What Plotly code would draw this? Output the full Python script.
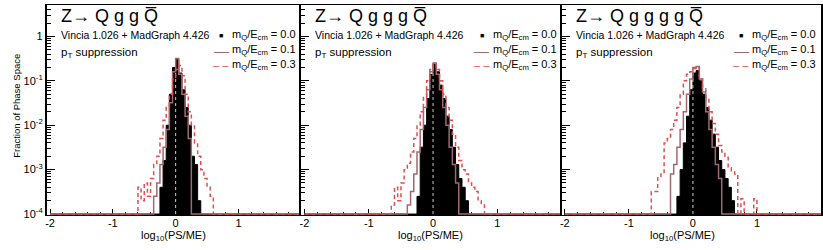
import numpy as np
import plotly.graph_objects as go

W, H = 823, 250
FONT = "Liberation Sans, Arial, Helvetica, sans-serif"

# ---------------- data ----------------
# histograms: 80 bins of width 0.05 on [-2, 2]; each series = first bin lower edge + bin contents
BIN_LO, BIN_HI, NBINS = -2.0, 2.0, 80

panel_titles = ["Z\u2192 Q g g Q\u0305", "Z\u2192 Q g g g Q\u0305", "Z\u2192 Q g g g g Q\u0305"]
generator_label = "Vincia 1.026 + MadGraph 4.426"
method_label = "p<sub>T</sub> suppression"
series_labels = ["m<sub>Q</sub>/E<sub>cm</sub> = 0.0",
                 "m<sub>Q</sub>/E<sub>cm</sub> = 0.1",
                 "m<sub>Q</sub>/E<sub>cm</sub> = 0.3"]
x_title = "log<sub>10</sub>(PS/ME)"
y_title = "Fraction of Phase Space"

# Panel 1: Z -> Q g g Qbar
p1_m00_start = -0.25
p1_m00 = [4.0e-4, 1.6e-3, 1.0e-2, 5.0e-2, 0.20, 0.30, 0.15, 6.3e-2, 2.5e-2, 1.0e-2,
          2.0e-3, 1.3e-3, 2.0e-4]
p1_m01_start = -0.35
p1_m01 = [2.5e-4, 5.0e-4, 1.3e-3, 3.2e-3, 8.0e-3, 3.2e-2, 0.16, 0.32, 0.14, 5.0e-2,
          1.6e-2, 5.0e-3]
p1_m03_start = -0.60
p1_m03 = [4.0e-4, 2.0e-4, 5.0e-4, 2.5e-4, 6.3e-4, 1.3e-3, 2.0e-3, 5.0e-3, 1.3e-2, 2.5e-2,
          5.0e-2, 0.11, 0.18, 0.22, 0.13, 5.0e-2, 2.0e-2, 1.0e-2, 4.0e-3, 2.0e-3,
          1.0e-3, 6.3e-4, 4.0e-4, 2.5e-4]

# Panel 2: Z -> Q g g g Qbar
p2_m00_start = -0.25
p2_m00 = [2.5e-4, 3.2e-3, 1.0e-2, 4.0e-2, 0.14, 0.25, 0.16, 8.0e-2, 4.0e-2, 1.6e-2,
          8.0e-3, 3.2e-3, 1.3e-3, 6.3e-4, 4.0e-4, 2.0e-4]
p2_m01_start = -0.40
p2_m01 = [1.6e-4, 3.2e-4, 8.0e-4, 2.5e-3, 8.0e-3, 2.5e-2, 6.3e-2, 0.16, 0.25, 0.14,
          6.3e-2, 2.5e-2, 1.0e-2, 3.2e-3, 1.3e-3, 5.0e-4]
p2_m03_start = -0.65
p2_m03 = [1.6e-4, 4.0e-4, 2.0e-4, 5.0e-4, 1.0e-3, 1.4e-3, 2.5e-3, 5.0e-3, 1.0e-2, 2.0e-2,
          4.5e-2, 0.10, 0.18, 0.24, 0.18, 0.10, 5.0e-2, 2.5e-2, 1.3e-2, 6.3e-3,
          3.2e-3, 1.6e-3, 1.0e-3, 8.0e-4, 5.0e-4, 4.0e-4, 3.2e-4, 2.0e-4, 1.6e-4]

# Panel 3: Z -> Q g g g g Qbar
p3_m00_start = -0.25
p3_m00 = [2.5e-4, 1.0e-3, 4.0e-3, 1.6e-2, 6.3e-2, 0.15, 0.17, 0.10, 5.0e-2, 2.5e-2,
          1.3e-2, 6.3e-3, 3.2e-3, 1.6e-3, 1.0e-3, 6.3e-4, 4.0e-4, 2.0e-4]
p3_m01_start = -0.35
p3_m01 = [8.0e-4, 1.3e-3, 3.2e-3, 8.0e-3, 2.0e-2, 5.0e-2, 0.11, 0.20, 0.21, 0.11,
          5.6e-2, 2.0e-2, 8.0e-3, 3.2e-3, 1.3e-3, 6.3e-4]
p3_m03_start = -0.65
p3_m03 = [3.2e-4, 3.2e-4, 7.0e-4, 8.0e-4, 4.0e-3, 5.0e-3, 8.0e-3, 1.3e-2, 2.5e-2, 5.0e-2,
          0.10, 0.14, 0.16, 0.19, 0.20, 0.11, 7.0e-2, 4.0e-2, 2.0e-2, 1.1e-2,
          6.3e-3, 3.5e-3, 2.5e-3, 2.0e-3, 1.1e-3, 9.0e-4, 8.0e-4, 0.0, 2.2e-4, 0.0,
          0.0, 0.0, 2.2e-4]

# height reached by the dashed reference line at log10(PS/ME) = 0
ref_line_x = 0.0
ref_line_top = [0.25, 0.20, 0.15]

x_tickvals = [-2, -1, 0, 1]
x_ticktext = ["-2", "-1", "0", "1"]
y_tickvals = [1e-4, 1e-3, 1e-2, 1e-1, 1]
y_ticktext = ["10<sup>-4</sup>", "10<sup>-3</sup>", "10<sup>-2</sup>", "10<sup>-1</sup>", "1"]

panels = [
    [(p1_m00_start, p1_m00), (p1_m01_start, p1_m01), (p1_m03_start, p1_m03)],
    [(p2_m00_start, p2_m00), (p2_m01_start, p2_m01), (p2_m03_start, p2_m03)],
    [(p3_m00_start, p3_m00), (p3_m01_start, p3_m01), (p3_m03_start, p3_m03)],
]

# ---------------- style / layout ----------------
FLOOR = 1e-4            # empty bins drawn on the frame bottom, as ROOT does
BROWN = "rgb(160,105,112)"
RED = "rgb(228,78,78)"
REFGRAY = "rgb(205,205,205)"
panel_px = [(45, 300), (300, 561), (561, 821)]
plot_top, plot_bot = 5, 219.3
title_px = [172, 430, 682]

edges = np.linspace(BIN_LO, BIN_HI, NBINS + 1)
bw = (BIN_HI - BIN_LO) / NBINS


def hist_xy(start, vals):
    full = np.zeros(NBINS)
    i0 = int(round((start - BIN_LO) / bw))
    full[i0:i0 + len(vals)] = vals
    y = np.where(full > 0, full, FLOOR)
    return edges, np.append(y, y[-1])


def px(X):
    return X / W


def py(Y):
    return 1 - Y / H


fig = go.Figure()
minor_y = [k * 10.0 ** e for e in range(-4, 1) for k in range(2, 10) if k * 10.0 ** e < 5.2]

for i, series in enumerate(panels):
    sfx = "" if i == 0 else str(i + 1)
    xa, ya = "x" + sfx, "y" + sfx
    (s0, v0), (s1, v1), (s3, v3) = series
    x, y = hist_xy(s0, v0)
    fig.add_trace(go.Scatter(x=x, y=y, mode="lines", xaxis=xa, yaxis=ya,
                             line=dict(shape="hv", color="black", width=1),
                             fill="tozeroy", fillcolor="black", showlegend=False,
                             name=series_labels[0]))
    fig.add_trace(go.Scatter(x=[ref_line_x, ref_line_x], y=[FLOOR, ref_line_top[i]],
                             mode="lines", xaxis=xa, yaxis=ya,
                             line=dict(color=REFGRAY, width=1, dash="3px,3px"),
                             showlegend=False))
    x, y = hist_xy(s1, v1)
    fig.add_trace(go.Scatter(x=x, y=y, mode="lines", xaxis=xa, yaxis=ya,
                             line=dict(shape="hv", color=BROWN, width=1.5),
                             showlegend=False, name=series_labels[1]))
    x, y = hist_xy(s3, v3)
    fig.add_trace(go.Scatter(x=x, y=y, mode="lines", xaxis=xa, yaxis=ya,
                             line=dict(shape="hv", color=RED, width=1.5, dash="4px,3px"),
                             showlegend=False, name=series_labels[2]))

    l, r = panel_px[i]
    fig.layout["xaxis" + sfx] = dict(
        domain=[px(l), px(r)], range=[-2.05, 2.0], anchor=ya,
        showline=True, linecolor="black", linewidth=1, mirror=True,
        ticks="inside", ticklen=6, tickwidth=1, tickcolor="black",
        tickmode="array", tickvals=x_tickvals, ticktext=x_ticktext,
        tickfont=dict(family=FONT, size=11, color="black"), ticklabelstandoff=-2,
        minor=dict(ticks="inside", ticklen=3, tickwidth=1, tickcolor="black",
                   tickmode="linear", tick0=0, dtick=0.2),
        showgrid=False, zeroline=False, layer="below traces", fixedrange=True)
    fig.layout["yaxis" + sfx] = dict(
        domain=[py(plot_bot), py(plot_top)], type="log", range=[-4.02, 0.71], anchor=xa,
        showline=True, linecolor="black", linewidth=2, mirror=(i == 2),
        ticks="inside", ticklen=8, tickwidth=1, tickcolor="black",
        tickmode="array", tickvals=y_tickvals, ticktext=y_ticktext,
        showticklabels=(i == 0),
        tickfont=dict(family=FONT, size=11, color="black"),
        minor=dict(ticks="inside", ticklen=4, tickwidth=1, tickcolor="black",
                   tickmode="array", tickvals=minor_y),
        showgrid=False, zeroline=False, fixedrange=True)

    ann = []
    ann.append(dict(text=panel_titles[i], x=px(l + 12), y=py(16), xanchor="left", yanchor="middle",
                    font=dict(family=FONT, size=18, color="black")))
    ann.append(dict(text=generator_label, x=px(l + 12), y=py(35.5), xanchor="left", yanchor="middle",
                    font=dict(family=FONT, size=10.5, color="black")))
    ann.append(dict(text=method_label, x=px(l + 12), y=py(54), xanchor="left", yanchor="middle",
                    font=dict(family=FONT, size=11.5, color="black")))
    rows = [36, 51.5, 66.5]
    for k in range(3):
        ann.append(dict(text=series_labels[k], x=px(r - 71), y=py(rows[k]), xanchor="left",
                        yanchor="middle", font=dict(family=FONT, size=11, color="black")))
    ann.append(dict(text="\u25A0", x=px(r - 80), y=py(rows[0]), xanchor="center", yanchor="middle",
                    font=dict(family=FONT, size=7, color="black")))
    ann.append(dict(text="\u2014", x=px(r - 80), y=py(rows[1]), xanchor="center", yanchor="middle",
                    font=dict(family=FONT, size=15, color=BROWN)))
    ann.append(dict(text="\u2013 \u2013", x=px(r - 80), y=py(rows[2]), xanchor="center", yanchor="middle",
                    font=dict(family=FONT, size=11, color=RED)))
    ann.append(dict(text=x_title, x=px(title_px[i]), y=py(232), xanchor="center", yanchor="top",
                    font=dict(family=FONT, size=11, color="black")))
    for a in ann:
        a.update(xref="paper", yref="paper", showarrow=False)
        fig.add_annotation(**a)

fig.add_annotation(text=y_title, x=px(15), y=py(108), xref="paper", yref="paper",
                   textangle=-90, showarrow=False, xanchor="center", yanchor="middle",
                   font=dict(family=FONT, size=9.5, color="black"))

fig.update_layout(width=W, height=H, margin=dict(l=0, r=0, t=0, b=0),
                  paper_bgcolor="white", plot_bgcolor="white", showlegend=False)

fig.write_html("out.html", config={"displayModeBar": False},
               post_script="document.body.style.margin='0';document.body.style.overflow='hidden';")
